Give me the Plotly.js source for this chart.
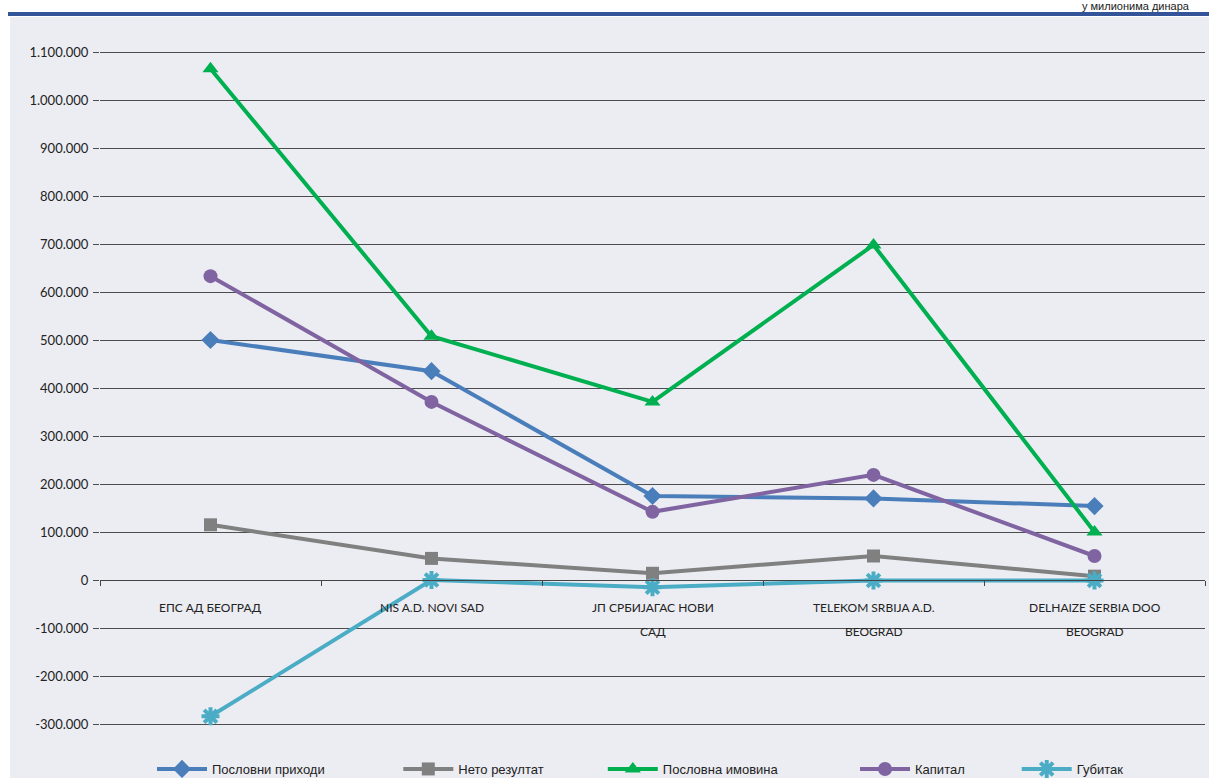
<!DOCTYPE html>
<html><head><meta charset="utf-8">
<script src="https://cdn.plot.ly/plotly-3.0.1.min.js"></script>
<style>html,body{margin:0;padding:0;background:#fff}#c{width:1209px;height:778px}</style>
</head><body><div id="c"></div>
<script>
const categories = ["ЕПС АД БЕОГРАД", "NIS A.D. NOVI SAD", "ЈП СРБИЈАГАС НОВИ|САД", "TELEKOM SRBIJA A.D.|BEOGRAD", "DELHAIZE SERBIA DOO|BEOGRAD"];
const poslovniPrihodi = [500000, 435000, 175000, 170000, 154000];
const netoRezultat = [115000, 45000, 14000, 50000, 8000];
const poslovnaImovina = [1065000, 508000, 371000, 698000, 100000];
const kapital = [633000, 371000, 142000, 219000, 50000];
const gubitak = [-284000, 0, -15000, -1000, -1000];
const seriesNames = ["Пословни приходи", "Нето резултат", "Пословна имовина", "Капитал", "Губитак"];
const yTickVals = [-300000,-200000,-100000,0,100000,200000,300000,400000,500000,600000,700000,800000,900000,1000000,1100000];
const yTickText = ["-300.000","-200.000","-100.000","0","100.000","200.000","300.000","400.000","500.000","600.000","700.000","800.000","900.000","1.000.000","1.100.000"];
const unitNote = "у милионима динара";

const xIdx = categories.map((c,i)=>i);
const colors = ["#4A7EBB","#808080","#00B050","#8064A2","#4BACC6"];
const symbols = ["diamond","square","triangle-up","circle","asterisk-open"];
const sizes = [14,13,14,14,15];
const data = [poslovniPrihodi, netoRezultat, poslovnaImovina, kapital, gubitak];
const pad = ["\u00a0".repeat(19),"\u00a0".repeat(15),"\u00a0".repeat(20),"\u00a0".repeat(13),""];
const traces = data.map((ys,k)=>({
  type:"scatter", mode:"lines+markers", x:xIdx, y:ys, name:seriesNames[k]+pad[k],
  line:{color:colors[k], width:4},
  marker:{symbol:symbols[k], size:sizes[k], color:colors[k], line:{color:colors[k], width: k===4?4:0}}
}));

const L=100,R=4,T=30,B=33,W=1209,H=778;
const pw=W-L-R, ph=H-T-B;
const px2x = p => (p-L)/pw;
const py2y = p => (H-B-p)/ph;
const yr=[-343750, 1145833];
const zeroPos = (0-yr[0])/(yr[1]-yr[0]);

const annotations = [];
categories.forEach((c,i)=>{
  c.split("|").forEach((line,j)=>{
    annotations.push({xref:"x", yref:"y", x:i, y:0, text:line, showarrow:false,
      yshift:-27-24*j, font:{family:"Lato, 'Open Sans', sans-serif", size:12, color:"#222"}});
  });
});
annotations.push({xref:"paper", yref:"paper", x:px2x(1080), y:py2y(6), xanchor:"left", yanchor:"middle",
  text:unitNote, showarrow:false, font:{family:"'Liberation Sans Narrow', 'Liberation Sans', sans-serif", size:11, color:"#222"}});

const layout = {
  width:W, height:H, margin:{l:L,r:R,t:T,b:B, autoexpand:false},
  paper_bgcolor:"#ffffff", plot_bgcolor:"rgba(0,0,0,0)",
  showlegend:true,
  legend:{orientation:"h", x:px2x(152), xanchor:"left", y:py2y(769), yanchor:"middle",
    itemwidth:50, font:{family:"'Liberation Sans Narrow', 'Liberation Sans', sans-serif", size:13, color:"#222"},
    bgcolor:"rgba(0,0,0,0)", traceorder:"normal"},
  xaxis:{type:"linear", range:[-0.5,4.5], anchor:"free", position:zeroPos, showgrid:false, zeroline:false,
    showline:true, linecolor:"#444", linewidth:1, tickmode:"array", tickvals:[-0.5,0.5,1.5,2.5,3.5,4.5],
    ticks:"outside", ticklen:5, tickcolor:"#444", showticklabels:false, fixedrange:true},
  yaxis:{range:yr, tickmode:"array", tickvals:yTickVals, ticktext:yTickText, showgrid:true, gridcolor:"#4d4d4d", gridwidth:1,
    zeroline:false, showline:false, ticks:"outside", ticklen:6, tickcolor:"#4d4d4d",
    tickfont:{family:"Lato, 'Open Sans', sans-serif", size:13, color:"#222"}, ticklabelstandoff:2},
  shapes:[
    {type:"rect", xref:"paper", yref:"paper", x0:px2x(10), x1:px2x(1215), y0:py2y(785), y1:py2y(17), fillcolor:"#ECEDF2", line:{width:0}, layer:"below"},
    {type:"rect", xref:"paper", yref:"paper", x0:px2x(8), x1:px2x(1215), y0:py2y(16), y1:py2y(12), fillcolor:"#34549A", line:{width:0}, layer:"below"}
  ],
  annotations:annotations
};
Plotly.newPlot("c", traces, layout, {displayModeBar:false, staticPlot:true});
</script></body></html>
